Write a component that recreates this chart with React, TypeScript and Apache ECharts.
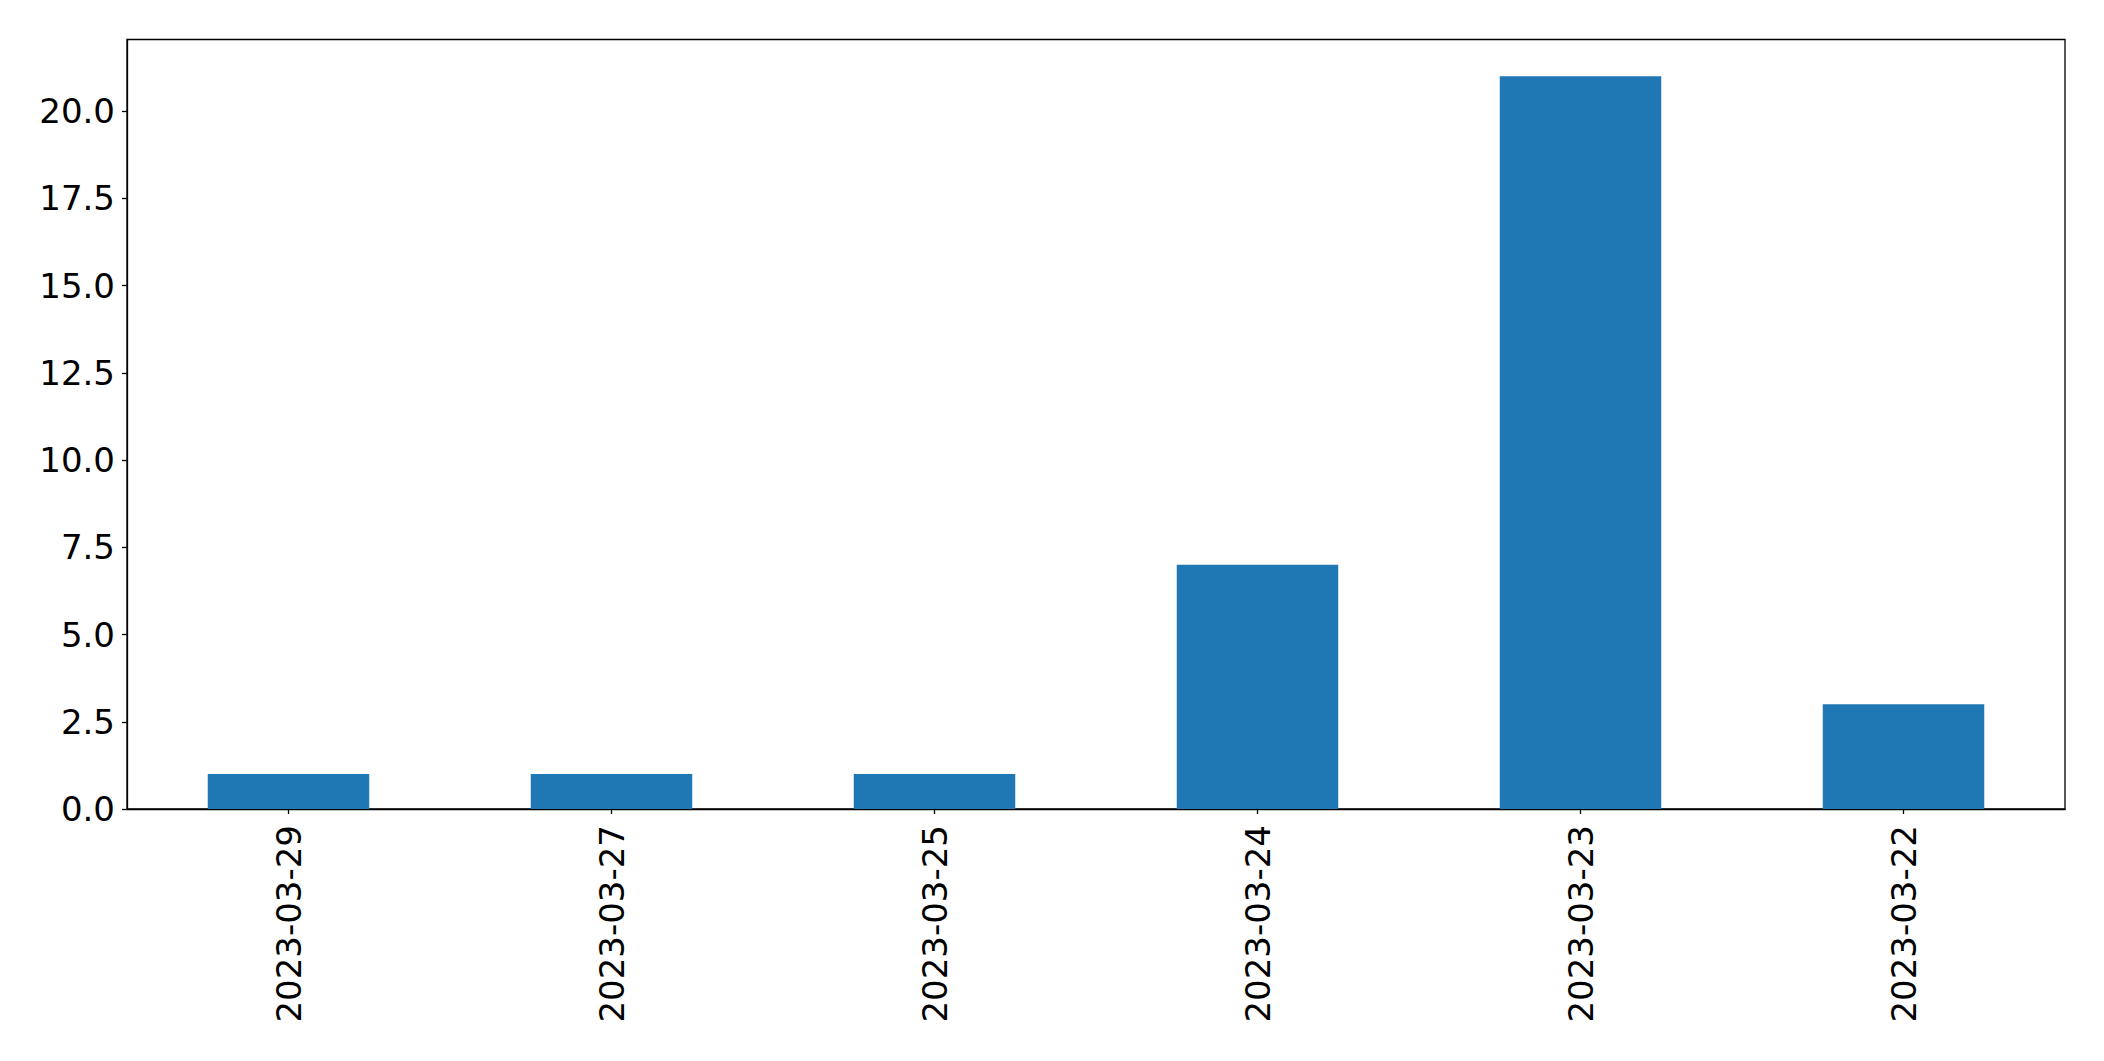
import React, { useEffect, useRef } from "react";
import * as echarts from "echarts";

const categories = ["2023-03-29", "2023-03-27", "2023-03-25", "2023-03-24", "2023-03-23", "2023-03-22"];
const values = [1, 1, 1, 7, 21, 3];
const yTicks = [0, 2.5, 5, 7.5, 10, 12.5, 15, 17.5, 20];
const yMax = 22.05;

export default function App() {
  const ref = useRef<HTMLDivElement>(null);
  useEffect(() => {
    if (!ref.current) return;
    const chart = echarts.init(ref.current, null, { renderer: "svg" });
    const font = { fontFamily: "DejaVu Sans", fontSize: 34, color: "#000" };
    chart.setOption({
      animation: false,
      backgroundColor: "#fff",
      grid: {
        left: 127,
        right: 39,
        top: 39.5,
        bottom: 252,
        show: true,
        borderColor: "#000",
        borderWidth: 1.3,
        backgroundColor: "transparent",
      },
      xAxis: {
        type: "category",
        data: categories,
        axisLine: { show: true, lineStyle: { color: "#000", width: 1.3 } },
        axisTick: { show: true, alignWithLabel: true, length: 5, lineStyle: { color: "#000", width: 1.3 } },
        axisLabel: { ...font, rotate: 90, margin: 16, interval: 0 },
        splitLine: { show: false },
      },
      yAxis: {
        type: "value",
        min: 0,
        max: yMax,
        axisLine: { show: true, lineStyle: { color: "#000", width: 1.3 } },
        axisTick: { show: true, length: 5, customValues: yTicks, lineStyle: { color: "#000", width: 1.3 } },
        axisLabel: {
          ...font,
          margin: 12,
          customValues: yTicks,
          formatter: (v: number) => v.toFixed(1),
        },
        splitLine: { show: false },
      },
      series: [
        {
          type: "bar",
          data: values,
          barWidth: "50%",
          itemStyle: { color: "#1f77b4" },
        },
      ],
    });
    return () => chart.dispose();
  }, []);
  return (
    <div
      ref={ref}
      style={{ position: "fixed", left: 0, top: 0, width: 2104, height: 1061 }}
    />
  );
}
